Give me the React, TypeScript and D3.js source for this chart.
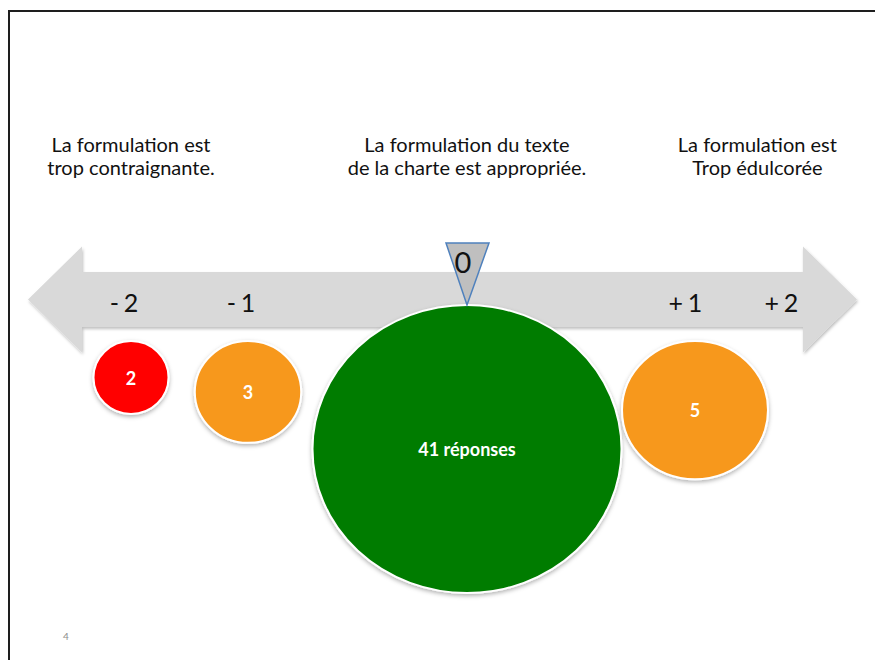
import * as d3 from 'd3';

// scale of the slide: -2 .. +2
const SCALE_POINTS = [-2, -1, 0, 1, 2];
const SCALE_SIGNS = ['-', '-', '', '+', '+'];
const SCALE_NUMBERS = ['2', '1', '0', '1', '2'];

// answers per position
const SCORES = [-2, -1, 0, 1];
const COUNTS = [2, 3, 41, 5];
const COUNT_LABELS = ['2', '3', '41 réponses', '5'];
const COLORS = ['#ff0000', '#f7981f', '#027c02', '#f7981f'];

// headings over the arrow
const HEADING_AT = [-2, 0, 1.65];
const HEADINGS = [
  ['La formulation est', 'trop contraignante.'],
  ['La formulation du texte', 'de la charte est appropriée.'],
  ['La formulation est', 'Trop édulcorée'],
];

const FONT = 'Lato, "Open Sans", sans-serif';

export default function App() {
  const width = 875;
  const height = 660;

  const x = d3.scaleLinear().domain(SCALE_POINTS).range([131, 248, 467, 695, 791]);
  const r = d3.scaleLog().domain([2, 41]).range([37.5, 154.5]);
  const ry = d3.scaleLinear().domain([37.5, 154.5]).range([36.5, 144]);

  // arrow geometry
  const midY = 299.5;
  const shaft = 27.5;
  const head = 53;
  const left = 28, leftBack = 82, rightBack = 803, right = 857;
  const arrow = d3.line()([
    [left, midY], [leftBack, midY - head], [leftBack, midY - shaft], [rightBack, midY - shaft],
    [rightBack, midY - head], [right, midY], [rightBack, midY + head], [rightBack, midY + shaft],
    [leftBack, midY + shaft], [leftBack, midY + head],
  ]) + 'Z';

  const tipY = 305;
  const tri = d3.line()([[x(0) - 21, 243], [x(0) + 22, 243], [x(0), tipY]]) + 'Z';

  const bubbles = SCORES.map((s, i) => {
    const rx = r(COUNTS[i]);
    const rv = ry(rx);
    const cy = s === 0 ? tipY + rv : midY + shaft + 14 + rv;
    return { cx: x(s), cy, rx, ry: rv, color: COLORS[i], label: COUNT_LABELS[i] };
  });

  return (
    <svg width={width} height={height} style={{ position: 'absolute', left: 0, top: 0, background: '#fff' }}>
      <defs>
        <filter id="shadow" x="-20%" y="-20%" width="140%" height="140%">
          <feDropShadow dx="0" dy="2" stdDeviation="2" floodColor="#000" floodOpacity="0.3" />
        </filter>
        <filter id="ashadow" x="-5%" y="-20%" width="110%" height="140%">
          <feDropShadow dx="1" dy="2" stdDeviation="1.5" floodColor="#000" floodOpacity="0.25" />
        </filter>
      </defs>

      {/* slide frame */}
      <path d={`M9,${height}V11H${width}`} fill="none" stroke="#1e1e1e" strokeWidth={2} />

      {/* headings */}
      {HEADINGS.map((lines, i) => (
        <text key={i} x={x(HEADING_AT[i])} y={152} textAnchor="middle" fontFamily={FONT} fontSize={20} fill="#111">
          {lines.map((l, j) => (
            <tspan key={j} x={x(HEADING_AT[i])} dy={j === 0 ? 0 : 23}>{l}</tspan>
          ))}
        </text>
      ))}

      {/* double arrow */}
      <path d={arrow} fill="#d9d9d9" filter="url(#ashadow)" />

      {/* scale labels */}
      {SCALE_POINTS.map((p, i) => p === 0 ? null : (
        <g key={p} fontFamily={FONT} fontSize={25} fill="#111">
          <text x={x(p) - 12} y={312} textAnchor="end">{SCALE_SIGNS[i]}</text>
          <text x={x(p)} y={312} textAnchor="middle">{SCALE_NUMBERS[i]}</text>
        </g>
      ))}

      {/* bubbles */}
      {bubbles.map((b, i) => (
        <g key={i}>
          <ellipse cx={b.cx} cy={b.cy} rx={b.rx} ry={b.ry} fill={b.color} stroke="#fff" strokeWidth={2} filter="url(#shadow)" />
          <text x={b.cx} y={b.cy} dy="0.4em" textAnchor="middle" fontFamily={FONT} fontWeight={700} fontSize={18} fill="#fff">
            {b.label}
          </text>
        </g>
      ))}

      {/* zero marker */}
      <path d={tri} fill="#bfbfbf" stroke="#4f81bd" strokeWidth={1.5} />
      <text x={x(0) - 4} y={273} textAnchor="middle" fontFamily={FONT} fontSize={29} fill="#111">
        {SCALE_NUMBERS[2]}
      </text>

      {/* slide number */}
      <text x={63} y={640} fontFamily={FONT} fontSize={10} fill="#8c8c8c">4</text>
    </svg>
  );
}
